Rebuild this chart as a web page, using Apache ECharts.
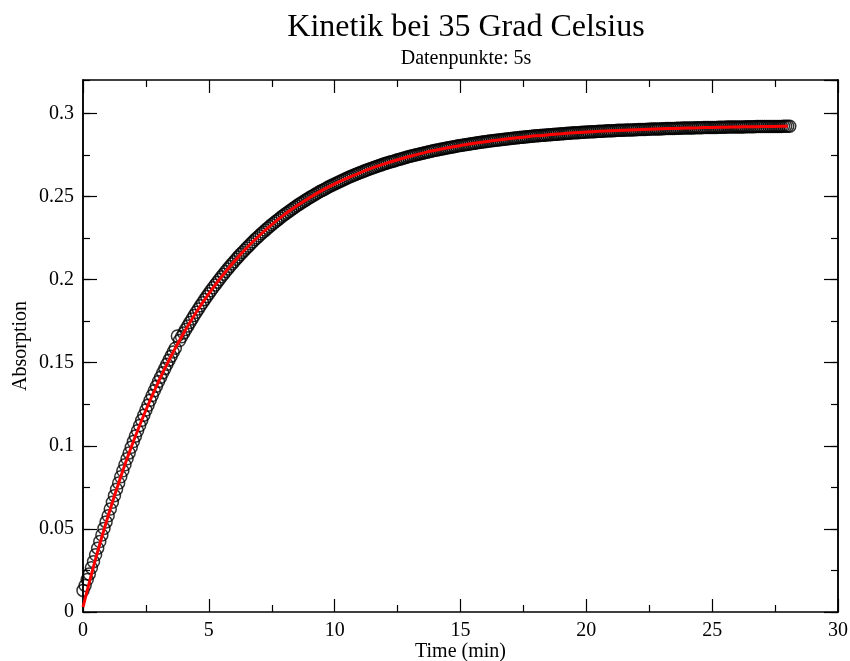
<!DOCTYPE html>
<html>
<head>
<meta charset="utf-8">
<title>Kinetik bei 35 Grad Celsius</title>
<script src="https://cdn.jsdelivr.net/npm/echarts@6/dist/echarts.min.js"></script>
<style>
    html, body { margin: 0; padding: 0; background: #fff; }
    #container { width: 850px; height: 661px; }
</style>
</head>
<body>
<div id="container"></div>
<script>
// Messpunkte alle 5 s (Zeit in min)
var sampleStep = 5 / 60;
// Absorption der Messpunkte, eine Zeile pro Minute (12 Punkte)
var absorption = [
    0.0130, 0.0160, 0.0195, 0.0228, 0.0266, 0.0303, 0.0344, 0.0384, 0.0424, 0.0463, 0.0503, 0.0542,
    0.0579, 0.0620, 0.0660, 0.0700, 0.0738, 0.0776, 0.0814, 0.0850, 0.0886, 0.0922, 0.0957, 0.0991,
    0.1025, 0.1058, 0.1090, 0.1122, 0.1153, 0.1184, 0.1215, 0.1244, 0.1274, 0.1302, 0.1331, 0.1358,
    0.1386, 0.1412, 0.1439, 0.1464, 0.1490, 0.1515, 0.1539, 0.1564, 0.1587, 0.1660, 0.1633, 0.1656,
    0.1678, 0.1700, 0.1721, 0.1742, 0.1763, 0.1783, 0.1803, 0.1822, 0.1842, 0.1860, 0.1879, 0.1897,
    0.1915, 0.1933, 0.1950, 0.1967, 0.1984, 0.2000, 0.2016, 0.2032, 0.2048, 0.2063, 0.2078, 0.2093,
    0.2107, 0.2122, 0.2136, 0.2150, 0.2163, 0.2176, 0.2189, 0.2202, 0.2215, 0.2227, 0.2240, 0.2251,
    0.2263, 0.2275, 0.2286, 0.2297, 0.2308, 0.2319, 0.2330, 0.2340, 0.2350, 0.2360, 0.2370, 0.2380,
    0.2390, 0.2399, 0.2408, 0.2417, 0.2426, 0.2435, 0.2443, 0.2452, 0.2460, 0.2468, 0.2476, 0.2484,
    0.2492, 0.2500, 0.2507, 0.2514, 0.2522, 0.2529, 0.2536, 0.2542, 0.2549, 0.2556, 0.2562, 0.2569,
    0.2575, 0.2581, 0.2587, 0.2593, 0.2599, 0.2605, 0.2610, 0.2616, 0.2621, 0.2627, 0.2632, 0.2637,
    0.2642, 0.2647, 0.2652, 0.2657, 0.2662, 0.2666, 0.2671, 0.2675, 0.2680, 0.2684, 0.2688, 0.2693,
    0.2697, 0.2701, 0.2705, 0.2709, 0.2712, 0.2716, 0.2720, 0.2724, 0.2727, 0.2731, 0.2734, 0.2738,
    0.2741, 0.2744, 0.2747, 0.2751, 0.2754, 0.2757, 0.2760, 0.2763, 0.2766, 0.2768, 0.2771, 0.2774,
    0.2777, 0.2779, 0.2782, 0.2785, 0.2787, 0.2790, 0.2792, 0.2794, 0.2797, 0.2799, 0.2801, 0.2804,
    0.2806, 0.2808, 0.2810, 0.2812, 0.2814, 0.2816, 0.2818, 0.2820, 0.2822, 0.2824, 0.2826, 0.2828,
    0.2829, 0.2831, 0.2833, 0.2834, 0.2836, 0.2838, 0.2839, 0.2841, 0.2842, 0.2844, 0.2845, 0.2847,
    0.2848, 0.2850, 0.2851, 0.2852, 0.2854, 0.2855, 0.2856, 0.2858, 0.2859, 0.2860, 0.2861, 0.2863,
    0.2864, 0.2865, 0.2866, 0.2867, 0.2868, 0.2869, 0.2870, 0.2871, 0.2872, 0.2873, 0.2874, 0.2875,
    0.2876, 0.2877, 0.2878, 0.2879, 0.2880, 0.2881, 0.2882, 0.2883, 0.2883, 0.2884, 0.2885, 0.2886,
    0.2887, 0.2887, 0.2888, 0.2889, 0.2889, 0.2890, 0.2891, 0.2892, 0.2892, 0.2893, 0.2894, 0.2894,
    0.2895, 0.2895, 0.2896, 0.2897, 0.2897, 0.2898, 0.2898, 0.2899, 0.2899, 0.2900, 0.2900, 0.2901,
    0.2901, 0.2902, 0.2902, 0.2903, 0.2903, 0.2904, 0.2904, 0.2905, 0.2905, 0.2906, 0.2906, 0.2906,
    0.2907, 0.2907, 0.2908, 0.2908, 0.2908, 0.2909, 0.2909, 0.2910, 0.2910, 0.2910, 0.2911, 0.2911,
    0.2911, 0.2912, 0.2912, 0.2912, 0.2913, 0.2913, 0.2913, 0.2913, 0.2914, 0.2914, 0.2914, 0.2915,
    0.2915, 0.2915, 0.2915, 0.2916, 0.2916, 0.2916, 0.2916, 0.2917, 0.2917, 0.2917, 0.2917, 0.2918,
    0.2918, 0.2918, 0.2918, 0.2918, 0.2919, 0.2919, 0.2919, 0.2919, 0.2919, 0.2920, 0.2920, 0.2920,
    0.2920, 0.2920, 0.2920, 0.2921, 0.2921, 0.2921, 0.2921, 0.2921, 0.2921, 0.2921, 0.2922, 0.2922,
    0.2922, 0.2922
];
// Fit-Kurve (rot), Stuetzstellen alle 0.5 min
var fitStep = 0.5;
var fitValues = [
    0.0030, 0.0319, 0.0579, 0.0814, 0.1025, 0.1215, 0.1386, 0.1539, 0.1678, 0.1803,
    0.1915, 0.2016, 0.2107, 0.2189, 0.2263, 0.2330, 0.2390, 0.2443, 0.2492, 0.2536,
    0.2575, 0.2610, 0.2642, 0.2671, 0.2697, 0.2720, 0.2741, 0.2760, 0.2777, 0.2792,
    0.2806, 0.2818, 0.2829, 0.2839, 0.2848, 0.2856, 0.2864, 0.2870, 0.2876, 0.2882,
    0.2887, 0.2891, 0.2895, 0.2898, 0.2901, 0.2904, 0.2907, 0.2909, 0.2911, 0.2913,
    0.2915, 0.2916, 0.2918, 0.2919, 0.2920, 0.2921, 0.2922
];

var points = absorption.map(function (v, i) { return [i * sampleStep, v]; });
var fit = fitValues.map(function (v, i) { return [i * fitStep, v]; });

var serif = 'Liberation Serif';
var axisColor = '#000';

function xAxisDef(pos, showLabel) {
    return {
        type: 'value',
        position: pos,
        min: 0,
        max: 30,
        interval: 5,
        axisLine: { show: true, onZero: false, lineStyle: { color: axisColor, width: 1.5 } },
        axisTick: { show: true, inside: true, length: 13, lineStyle: { color: axisColor, width: 1.2 } },
        minorTick: { show: true, splitNumber: 2, length: 7, lineStyle: { color: axisColor, width: 1.2 } },
        axisLabel: { show: showLabel, color: '#000', fontFamily: serif, fontSize: 20, margin: 9 },
        splitLine: { show: false },
        minorSplitLine: { show: false }
    };
}

function yAxisDef(pos, interval, tickLen, showLabel) {
    return {
        type: 'value',
        position: pos,
        min: 0,
        max: 0.32,
        interval: interval,
        axisLine: { show: true, onZero: false, lineStyle: { color: axisColor, width: 1.5 } },
        axisTick: { show: true, inside: true, length: tickLen, lineStyle: { color: axisColor, width: 1.2 } },
        axisLabel: {
            show: showLabel, showMaxLabel: false, color: '#000', fontFamily: serif, fontSize: 20, margin: 9,
            formatter: function (v) { return String(Math.round(v * 1000) / 1000); }
        },
        splitLine: { show: false }
    };
}

var dom = document.getElementById('container');
var myChart = echarts.init(dom, null, { renderer: 'canvas' });
var option = {
    backgroundColor: '#fff',
    animation: false,
    title: [
        {
            text: 'Kinetik bei 35 Grad Celsius',
            left: 461, top: 7, textAlign: 'center',
            textStyle: { fontFamily: serif, fontSize: 32, fontWeight: 'normal', color: '#000' }
        },
        {
            text: 'Datenpunkte: 5s',
            left: 461, top: 44, textAlign: 'center',
            textStyle: { fontFamily: serif, fontSize: 20, fontWeight: 'normal', color: '#000' }
        }
    ],
    grid: { left: 83, right: 12, top: 80, bottom: 49, containLabel: false, outerBoundsMode: 'none' },
    xAxis: [
        Object.assign(xAxisDef('bottom', true), {
            name: 'Time (min)', nameLocation: 'middle', nameGap: 30, nameMoveOverlap: false,
            nameTextStyle: { fontFamily: serif, fontSize: 20, color: '#000' }
        }),
        xAxisDef('top', false)
    ],
    yAxis: [
        Object.assign(yAxisDef('left', 0.05, 14, true), {
            name: 'Absorption', nameLocation: 'middle', nameGap: 52, nameMoveOverlap: false,
            nameTextStyle: { fontFamily: serif, fontSize: 20, color: '#000' }
        }),
        yAxisDef('left', 0.025, 7, false),
        yAxisDef('right', 0.05, 14, false),
        yAxisDef('right', 0.025, 7, false)
    ],
    series: [
        {
            name: 'Messpunkte',
            type: 'scatter',
            xAxisIndex: 0,
            yAxisIndex: 0,
            symbol: 'circle',
            symbolSize: 12,
            silent: true,
            itemStyle: { color: 'rgba(0,0,0,0)', borderColor: '#000', borderWidth: 1.5 },
            data: points,
            z: 2
        },
        {
            name: 'Fit',
            type: 'line',
            xAxisIndex: 0,
            yAxisIndex: 0,
            showSymbol: false,
            symbol: 'none',
            smooth: 0.3,
            silent: true,
            lineStyle: { color: '#ff0000', width: 3 },
            data: fit,
            z: 3
        }
    ]
};
myChart.setOption(option);
</script>
</body>
</html>
